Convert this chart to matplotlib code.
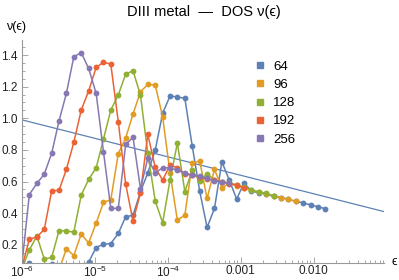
import matplotlib
matplotlib.use("Agg")
import matplotlib.pyplot as plt
from matplotlib.lines import Line2D
from matplotlib.ticker import FixedLocator, MultipleLocator, LogLocator, NullFormatter
import numpy as np

plt.rcParams['font.family'] = ['Liberation Sans', 'DejaVu Sans']
plt.rcParams['mathtext.fontset'] = 'custom'
plt.rcParams['mathtext.rm'] = 'Liberation Sans'
plt.rcParams['mathtext.default'] = 'regular'

# shared energy grid (log spaced bins)
eps = [1.00e-6, 1.26e-6, 1.60e-6, 2.02e-6, 2.55e-6, 3.22e-6, 4.06e-6, 5.13e-6, 6.49e-6, 8.19e-6,
       1.04e-5, 1.31e-5, 1.65e-5, 2.09e-5, 2.64e-5, 3.33e-5, 4.21e-5, 5.31e-5, 6.71e-5, 8.48e-5,
       1.07e-4, 1.35e-4, 1.71e-4, 2.16e-4, 2.73e-4, 3.45e-4, 4.36e-4, 5.50e-4, 6.95e-4, 8.78e-4,
       1.11e-3, 1.40e-3, 1.77e-3, 2.24e-3, 2.83e-3, 3.57e-3, 4.51e-3, 5.70e-3, 7.19e-3, 9.09e-3,
       1.15e-2, 1.45e-2]

nu_64 = [0.05, 0.085, 0.06, 0.04, 0.08, 0.04, 0.03, 0.05, 0.06, 0.09,
         0.183, 0.204, 0.208, 0.272, 0.377, 0.387, 0.535, 0.655, 0.799, 1.031,
         1.141, 1.135, 1.126, 0.824, 0.541, 0.31, 0.43, 0.725, 0.61, 0.489,
         0.592, 0.539, 0.53, 0.52, 0.506, 0.499, 0.487, 0.475, 0.465, 0.452,
         0.44, 0.428]
nu_96 = [0.02, 0.03, 0.05, 0.06, 0.05, 0.04, 0.175, 0.132, 0.268, 0.212,
         0.337, 0.468, 0.485, 0.776, 0.875, 1.027, 1.168, 1.214, 1.21, 1.01,
         0.655, 0.356, 0.387, 0.715, 0.731, 0.493, 0.677, 0.56, 0.588, 0.575,
         0.56, 0.545, 0.533, 0.522, 0.51, 0.499, 0.487, 0.475]
nu_128 = [0.05, 0.168, 0.255, 0.11, 0.12, 0.29, 0.288, 0.28, 0.514, 0.613,
          0.687, 0.868, 1.052, 1.147, 1.28, 1.30, 1.147, 0.778, 0.478, 0.339,
          0.609, 0.843, 0.537, 0.67, 0.604, 0.65, 0.609, 0.60, 0.59, 0.58,
          0.565, 0.546, 0.535, 0.526, 0.508]
nu_192 = [0.06, 0.235, 0.25, 0.297, 0.541, 0.545, 0.677, 0.847, 1.052, 1.172,
          1.322, 1.354, 1.343, 0.978, 0.584, 0.35, 0.528, 0.898, 0.689, 0.609,
          0.704, 0.687, 0.647, 0.64, 0.63, 0.614, 0.61, 0.60, 0.585, 0.577, 0.56]
nu_256 = [0.08, 0.518, 0.588, 0.647, 0.778, 0.984, 1.157, 1.389, 1.415, 1.316,
          1.157, 0.788, 0.43, 0.43, 0.835, 0.879, 0.556, 0.746, 0.655, 0.687,
          0.687, 0.67, 0.655, 0.64, 0.634, 0.62, 0.605, 0.598, 0.588]

sizes = ['64', '96', '128', '192', '256']
series = [nu_64, nu_96, nu_128, nu_192, nu_256]
colors = ['#5E81B5', '#E19C24', '#8FB032', '#EB6235', '#8778B3']

# straight fit line
line_eps = [1e-6, 0.092]
line_nu = [0.99, 0.41]

xticks = [1e-6, 1e-5, 1e-4, 1e-3, 1e-2]
xticklabels = ['10$^{-6}$', '10$^{-5}$', '10$^{-4}$', '0.001', '0.010']
yticks = [0.2, 0.4, 0.6, 0.8, 1.0, 1.2, 1.4]

fig = plt.figure(figsize=(3.99, 2.80), dpi=100)
ax = fig.add_axes([22 / 399, 1 - 263 / 280, 362 / 399, 223 / 280])

ax.plot(line_eps, line_nu, color=colors[0], lw=0.9)
for nu, c in zip(series, colors):
    ax.plot(eps[:len(nu)], nu, color=c, lw=1.1, marker='o', ms=4.2, mew=0)

ax.set_xscale('log')
ax.set_xlim(1e-6, 0.092)
ax.set_ylim(0.085, 1.495)

ax.xaxis.set_major_locator(FixedLocator(xticks))
ax.set_xticklabels(xticklabels)
ax.xaxis.set_minor_locator(LogLocator(base=10, subs=np.arange(2, 10)))
ax.xaxis.set_minor_formatter(NullFormatter())
ax.set_yticks(yticks)
ax.set_yticklabels(['%.1f' % v for v in yticks])
ax.yaxis.set_minor_locator(MultipleLocator(0.05))

for s in ['top', 'right']:
    ax.spines[s].set_visible(False)
for s in ['left', 'bottom']:
    ax.spines[s].set_color('#999999')
    ax.spines[s].set_linewidth(0.8)
ax.tick_params(which='both', direction='in', color='#999999', labelsize=8.5,
               labelcolor='#222222', width=0.6)
ax.tick_params(which='major', length=4)
ax.tick_params(which='minor', length=2)
ax.tick_params(axis='x', which='major', pad=1.5)
ax.tick_params(axis='y', which='major', pad=3)

fig.text(16 / 399, 1 - 27 / 280, 'ν(ϵ)', ha='center', va='center', fontsize=9)
fig.text(394 / 399, 1 - 262 / 280, 'ϵ', ha='center', va='center', fontsize=9)
fig.text(204 / 399, 1 - 12 / 280, 'DIII metal  —  DOS ν(ϵ)', ha='center', va='center',
         fontsize=10.5)

handles = [Line2D([], [], marker='s', ls='none', color=c, ms=4.6) for c in colors]
fig.legend(handles, sizes, loc='upper left', bbox_to_anchor=(248 / 399, 1 - 54 / 280),
           frameon=False, fontsize=9.5, handlelength=0.8, handletextpad=0.6,
           labelspacing=0.45, borderpad=0)

fig.savefig('out.png', dpi=100)
